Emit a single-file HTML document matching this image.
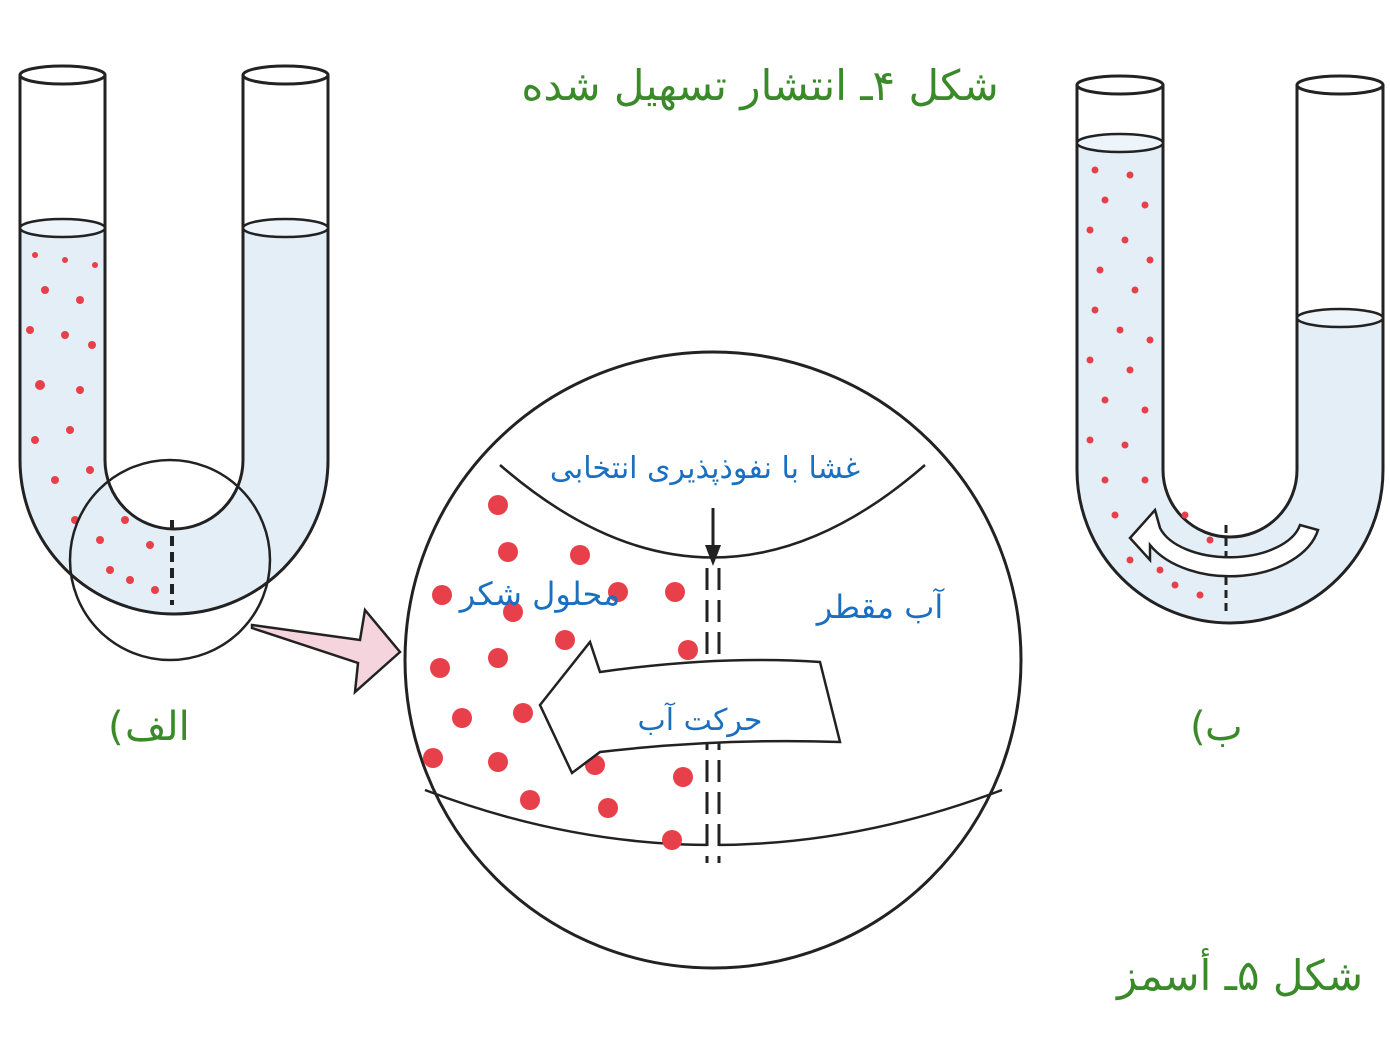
<!DOCTYPE html>
<html><head><meta charset="utf-8"><style>
body{margin:0;background:#fff}
svg{display:block}
text{font-family:"DejaVu Sans","Liberation Sans",sans-serif}
</style></head><body>
<svg width="1390" height="1046" viewBox="0 0 1390 1046" xmlns="http://www.w3.org/2000/svg">
<path d="M20,228 L20,460 A154,154 0 0 0 328,460 L328,228 L243,228 L243,460 A69,69 0 0 1 105,460 L105,228 Z" fill="#e3eef7"/>
<path d="M20,75 L20,460 A154,154 0 0 0 328,460 L328,75 M105,75 L105,460 A69,69 0 0 0 243,460 L243,75" fill="none" stroke="#222" stroke-width="3"/>
<ellipse cx="62.5" cy="75" rx="42.5" ry="9" fill="#fff" stroke="#222" stroke-width="3"/>
<ellipse cx="285.5" cy="75" rx="42.5" ry="9" fill="#fff" stroke="#222" stroke-width="3"/>
<ellipse cx="62.5" cy="228" rx="42.5" ry="9" fill="#eef5fa" stroke="#222" stroke-width="2.5"/>
<ellipse cx="285.5" cy="228" rx="42.5" ry="9" fill="#eef5fa" stroke="#222" stroke-width="2.5"/>
<line x1="172" y1="520" x2="172" y2="605" stroke="#222" stroke-width="4" stroke-dasharray="10,6"/>
<g fill="#e8404a">
<circle cx="35" cy="255" r="3"/><circle cx="65" cy="260" r="3"/><circle cx="95" cy="265" r="3"/><circle cx="45" cy="290" r="4"/><circle cx="80" cy="300" r="4"/><circle cx="30" cy="330" r="4"/><circle cx="65" cy="335" r="4"/><circle cx="92" cy="345" r="4"/><circle cx="40" cy="385" r="5"/><circle cx="80" cy="390" r="4"/><circle cx="35" cy="440" r="4"/><circle cx="70" cy="430" r="4"/><circle cx="55" cy="480" r="4"/><circle cx="90" cy="470" r="4"/><circle cx="75" cy="520" r="4"/><circle cx="100" cy="540" r="4"/><circle cx="125" cy="520" r="4"/><circle cx="110" cy="570" r="4"/><circle cx="150" cy="545" r="4"/><circle cx="130" cy="580" r="4"/><circle cx="155" cy="590" r="4"/>
</g>
<circle cx="170" cy="560" r="100" fill="none" stroke="#222" stroke-width="2.5"/>
<path d="M252,625 L360,640 L365,610 L400,652 L355,692 L358,663 L252,628 Z" fill="#f6d4de" stroke="#222" stroke-width="2.5"/>
<text x="125" y="740" font-size="40" fill="#3a8a2a" text-anchor="end" direction="rtl">الف</text>
<text x="108" y="740" font-size="40" fill="#3a8a2a">(</text>
<text x="760" y="100" font-size="42" fill="#3a8a2a" text-anchor="middle" direction="rtl">شکل ۴ـ انتشار تسهیل شده</text>
<circle cx="713" cy="660" r="308" fill="#fff" stroke="#222" stroke-width="3"/>
<path d="M500,465 Q713,650 925,465" fill="none" stroke="#222" stroke-width="2.5"/>
<path d="M425,790 Q713,900 1002,790" fill="none" stroke="#222" stroke-width="2.5"/>
<rect x="707" y="568" width="12" height="295" fill="#fff"/>
<line x1="707" y1="568" x2="707" y2="863" stroke="#222" stroke-width="3" stroke-dasharray="22,10"/>
<line x1="719" y1="568" x2="719" y2="863" stroke="#222" stroke-width="3" stroke-dasharray="22,10"/>
<line x1="713" y1="508" x2="713" y2="550" stroke="#222" stroke-width="3"/>
<path d="M705,545 L721,545 L713,566 Z" fill="#222"/>
<g fill="#e8404a">
<circle cx="498" cy="505" r="10"/><circle cx="508" cy="552" r="10"/><circle cx="442" cy="595" r="10"/><circle cx="580" cy="555" r="10"/><circle cx="618" cy="592" r="10"/><circle cx="675" cy="592" r="10"/><circle cx="513" cy="612" r="10"/><circle cx="565" cy="640" r="10"/><circle cx="440" cy="668" r="10"/><circle cx="498" cy="658" r="10"/><circle cx="688" cy="650" r="10"/><circle cx="462" cy="718" r="10"/><circle cx="523" cy="713" r="10"/><circle cx="433" cy="758" r="10"/><circle cx="498" cy="762" r="10"/><circle cx="595" cy="765" r="10"/><circle cx="683" cy="777" r="10"/><circle cx="530" cy="800" r="10"/><circle cx="608" cy="808" r="10"/><circle cx="672" cy="840" r="10"/>
</g>
<path d="M600,672 Q720,655 820,662 L840,742 Q720,738 600,752 L572,773 L540,705 L590,642 Z" fill="#fff" stroke="#222" stroke-width="2.5"/>
<text x="705" y="478" font-size="30" fill="#1a6fc0" text-anchor="middle" direction="rtl">غشا با نفوذپذیری انتخابی</text>
<text x="540" y="605" font-size="32" fill="#1a6fc0" text-anchor="middle" direction="rtl">محلول شکر</text>
<text x="880" y="618" font-size="32" fill="#1a6fc0" text-anchor="middle" direction="rtl">آب مقطر</text>
<text x="700" y="730" font-size="30" fill="#1a6fc0" text-anchor="middle" direction="rtl">حرکت آب</text>
<path d="M1077,143 L1077,470 A153,153 0 0 0 1383,470 L1383,318 L1297,318 L1297,470 A67,67 0 0 1 1163,470 L1163,143 Z" fill="#e3eef7"/>
<path d="M1077,85 L1077,470 A153,153 0 0 0 1383,470 L1383,85 M1163,85 L1163,470 A67,67 0 0 0 1297,470 L1297,85" fill="none" stroke="#222" stroke-width="3"/>
<ellipse cx="1120" cy="85" rx="43" ry="9" fill="#fff" stroke="#222" stroke-width="3"/>
<ellipse cx="1340" cy="85" rx="43" ry="9" fill="#fff" stroke="#222" stroke-width="3"/>
<ellipse cx="1120" cy="143" rx="43" ry="9" fill="#eef5fa" stroke="#222" stroke-width="2.5"/>
<ellipse cx="1340" cy="318" rx="43" ry="9" fill="#eef5fa" stroke="#222" stroke-width="2.5"/>
<g fill="#e8404a">
<circle cx="1095" cy="170" r="3.5"/><circle cx="1130" cy="175" r="3.5"/><circle cx="1105" cy="200" r="3.5"/><circle cx="1145" cy="205" r="3.5"/><circle cx="1090" cy="230" r="3.5"/><circle cx="1125" cy="240" r="3.5"/><circle cx="1150" cy="260" r="3.5"/><circle cx="1100" cy="270" r="3.5"/><circle cx="1135" cy="290" r="3.5"/><circle cx="1095" cy="310" r="3.5"/><circle cx="1120" cy="330" r="3.5"/><circle cx="1150" cy="340" r="3.5"/><circle cx="1090" cy="360" r="3.5"/><circle cx="1130" cy="370" r="3.5"/><circle cx="1105" cy="400" r="3.5"/><circle cx="1145" cy="410" r="3.5"/><circle cx="1090" cy="440" r="3.5"/><circle cx="1125" cy="445" r="3.5"/><circle cx="1105" cy="480" r="3.5"/><circle cx="1145" cy="480" r="3.5"/><circle cx="1115" cy="515" r="3.5"/><circle cx="1130" cy="560" r="3.5"/><circle cx="1160" cy="570" r="3.5"/><circle cx="1185" cy="515" r="3.5"/><circle cx="1175" cy="585" r="3.5"/><circle cx="1200" cy="595" r="3.5"/><circle cx="1210" cy="540" r="3.5"/>
</g>
<line x1="1226" y1="525" x2="1226" y2="612" stroke="#222" stroke-width="3" stroke-dasharray="8,5"/>
<path d="M1160,528 A72,40 0 0 0 1300,525 L1318,530 A90,58 0 0 1 1150,545 L1150,560 L1130,538 L1155,510 Z" fill="#fff" stroke="#222" stroke-width="2.5"/>
<text x="1205" y="740" font-size="40" fill="#3a8a2a" text-anchor="end" direction="rtl">ب</text>
<text x="1190" y="740" font-size="40" fill="#3a8a2a">(</text>
<text x="1240" y="990" font-size="42" fill="#3a8a2a" text-anchor="middle" direction="rtl">شکل ۵ـ أسمز</text>
</svg>
</body></html>
